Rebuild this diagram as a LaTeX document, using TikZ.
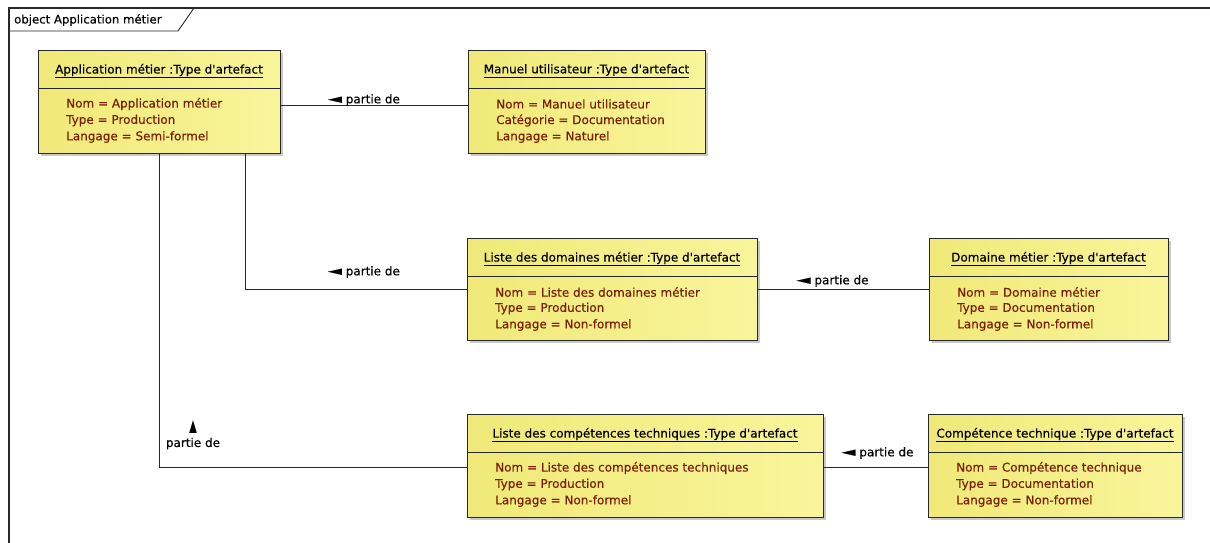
\documentclass[tikz,border=0pt]{standalone}
\usepackage{fontspec}
\setmainfont{DejaVu Sans}[FakeBold=0.3, BoldFont=DejaVu Sans]
\usepackage{graphicx}
\usetikzlibrary{shadows}
\definecolor{boxleft}{RGB}{240,233,120}
\definecolor{boxright}{RGB}{249,245,155}
\definecolor{attrc}{RGB}{122,30,6}
\definecolor{linec}{RGB}{40,40,40}
\newcommand\apos{\textquotesingle}
\newcommand\tri{\raisebox{0.3pt}{\scalebox{1.5}[1.05]{◄}}}
\newcommand\uptri{\scalebox{0.8}[1.35]{▲}}
\tikzset{
  objbox/.style={draw=linec, line width=0.9pt, left color=boxleft, right color=boxright,
    inner sep=0pt, outer sep=0pt, anchor=north west,
    drop shadow={shadow xshift=3pt, shadow yshift=-3pt, fill=black!35, opacity=0.6}},
  txt/.style={font=\fontsize{12}{14}\selectfont\bfseries},
  objtitle/.style={txt, inner sep=0pt, text=black},
  objattr/.style={txt, inner sep=0pt, anchor=west, text=attrc},
  conn/.style={draw=linec, line width=0.9pt},
  lbl/.style={font=\fontsize{12}{16}\selectfont\bfseries, inner sep=0pt, text=black},
}
% object box: name, left, top, width, height, title, attribute lines
\newcommand\objbox[7]{%
  \node[objbox, minimum width=#4pt, minimum height=#5pt] (#1) at (#2,#3) {};
  \draw[conn] ([yshift=-38pt]#1.north west) -- ([yshift=-38pt]#1.north east);
  \node[objtitle] (#1-title) at ([yshift=-21pt]#1.north) {\underline{#6}};
  \foreach \a [count=\i] in {#7} {
    \node[objattr] (#1-attr\i) at ([xshift=28pt,yshift={-37.5pt-16.5pt*\i}]#1.north west) {\a};
  }
}
\begin{document}
\begin{tikzpicture}[x=1pt,y=-1pt]
\useasboundingbox (0,0) rectangle (1210,542);
\fill[white] (0,0) rectangle (1210,542);
\clip (0,0) rectangle (1210,542);

% diagram frame and its name tab
\draw[linec, line width=1.2pt] (9,560) -- (9,8) -- (1230,8);
\draw[linec, line width=0.9pt] (9,31) -- (178,31) -- (194,8);
\node[font=\fontsize{11.7}{14}\selectfont\bfseries, inner sep=0pt, anchor=west] (frametitle) at (14,20) {object Application métier};

% objects
\objbox{A}{38}{50}{242}{103}{Application métier :Type d\apos artefact}
  {Nom = Application métier, Type = Production, Langage = Semi-formel}
\objbox{M}{468}{50}{237}{103}{Manuel utilisateur :Type d\apos artefact}
  {Nom = Manuel utilisateur, Catégorie = Documentation, Langage = Naturel}
\objbox{LD}{467}{238}{290}{102}{Liste des domaines métier :Type d\apos artefact}
  {Nom = Liste des domaines métier, Type = Production, Langage = Non-formel}
\objbox{D}{929}{238}{239}{102}{Domaine métier :Type d\apos artefact}
  {Nom = Domaine métier, Type = Documentation, Langage = Non-formel}
\objbox{LC}{467}{414}{356}{103}{Liste des compétences techniques :Type d\apos artefact}
  {Nom = Liste des compétences techniques, Type = Production, Langage = Non-formel}
\objbox{C}{928}{414}{254}{103}{Compétence technique :Type d\apos artefact}
  {Nom = Compétence technique, Type = Documentation, Langage = Non-formel}

% "partie de" links
\draw[conn] ([yshift=-55pt]A.north east) --
  node[lbl, pos=0.447, yshift=5pt] (lAM) {\tri\ partie de} ([yshift=-55pt]M.north west);
\draw[conn] ([xshift=86pt]A.south) |-
  node[lbl, pos=0.768, yshift=17pt] (lALD) {\tri\ partie de} ([yshift=-51pt]LD.north west);
\draw[conn] ([yshift=-51pt]LD.north east) --
  node[lbl, pos=0.44, yshift=8pt] (lLDD) {\tri\ partie de} ([yshift=-51pt]D.north west);
\draw[conn] (A.south) |-
  node[lbl, pos=0.449, xshift=34pt, align=center] (lALC) {\uptri\\partie de} ([yshift=-53pt]LC.north west);
\draw[conn] ([yshift=-53pt]LC.north east) --
  node[lbl, pos=0.52, yshift=14pt] (lLCC) {\tri\ partie de} ([yshift=-53pt]C.north west);
\end{tikzpicture}
\end{document}
